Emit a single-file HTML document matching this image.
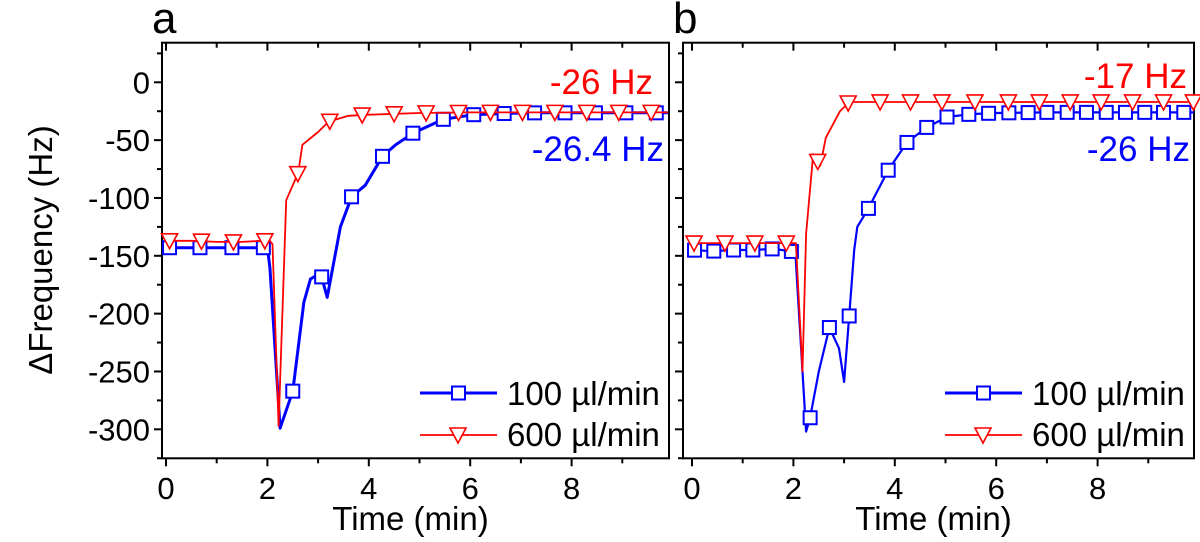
<!DOCTYPE html>
<html><head><meta charset="utf-8">
<style>
html,body{margin:0;padding:0;background:#fff;}
svg{display:block;font-family:"Liberation Sans",Arial,sans-serif;}
</style></head>
<body>
<svg id="chart" width="1200" height="542" viewBox="0 0 1200 542" xmlns="http://www.w3.org/2000/svg"></svg>
<script>
// Panel a data
const aBlueT = [0,0.5,1,1.5,2.0,2.05,2.25,2.5,2.72,2.85,3.05,3.18,3.44,3.66,3.93,4.27,4.53,4.87,5.47,6.07,6.67,7.3,8,9,9.9];
const aBlueV = [-143,-143,-143,-143,-143,-160,-299,-267,-190,-170,-165,-186,-125,-99,-89,-64,-54,-44,-32,-28,-27,-26.4,-26.4,-26.4,-26.4];
const aBlueMarkT = [0.07,0.67,1.3,1.92,2.5,3.07,3.66,4.27,4.87,5.47,6.07,6.67,7.27,7.87,8.47,9.07,9.67];
const aRedT = [0,0.5,1,1.5,1.9,2.05,2.1,2.22,2.37,2.61,2.69,3.0,3.21,3.6,4.0,5.0,6,7,8,9,9.9];
const aRedV = [-137,-137,-138,-138,-137,-137,-140,-297,-102,-78,-54,-43,-34,-29,-28,-26.5,-26,-26,-26,-26,-26];
const aRedMarkT = [0.07,0.7,1.33,1.95,2.6,3.23,3.87,4.5,5.13,5.77,6.4,7.03,7.67,8.3,8.93,9.57];
// Panel b data
const bBlueT = [0,0.4,0.8,1.2,1.6,1.95,2.04,2.25,2.33,2.5,2.71,2.9,3.0,3.1,3.2,3.26,3.48,3.87,4.24,4.63,5.03,5.5,6,7,8,9,9.9];
const bBlueV = [-145,-146,-145,-145,-144,-146,-148,-302,-290,-250,-212,-230,-259,-202,-145,-125,-109,-76,-52,-39,-30,-27.5,-26.5,-26,-26,-26,-26];
const bBlueMarkT = [0.05,0.43,0.82,1.2,1.58,1.96,2.33,2.71,3.1,3.48,3.87,4.24,4.63,5.03,5.46,5.85,6.25,6.63,7.0,7.4,7.78,8.17,8.55,8.93,9.3,9.7];
const bRedT = [0,0.5,1,1.5,2.05,2.18,2.25,2.39,2.53,2.64,2.92,3.1,4,5,6,7,8,9,9.9];
const bRedV = [-139,-139,-139,-139,-139,-250,-131,-62,-72,-48,-25,-17,-17,-17,-17,-17,-17,-17,-17];
const bRedMarkT = [0.04,0.65,1.24,1.86,2.48,3.08,3.71,4.31,4.93,5.58,6.24,6.85,7.46,8.07,8.69,9.30,9.89];
// ticks
const yTicks = [0,-50,-100,-150,-200,-250,-300];
const xTicks = [0,2,4,6,8];

const NS="http://www.w3.org/2000/svg";
const svg=document.getElementById('chart');
function mk(tag,attrs,parent){const e=document.createElementNS(NS,tag);for(const k in attrs)e.setAttribute(k,attrs[k]);(parent||svg).appendChild(e);return e;}
function interp(T,V,t){for(let i=0;i<T.length-1;i++){if(t>=T[i]&&t<=T[i+1]){return V[i]+(V[i+1]-V[i])*(t-T[i])/(T[i+1]-T[i]);}}return V[V.length-1];}

const Y0=82.3, PXHZ=1.1567, TOP=42.7, BOT=458.3;
const yS=v=>Y0-v*PXHZ;

function panel(p){
  const xS=t=>p.x0+t*50.7;
  const g=mk('g',{});
  
  
  const fr=mk('rect',{x:p.L,y:TOP,width:p.R-p.L,height:BOT-TOP,fill:'none',stroke:'#000','stroke-width':2},g);
  
  for(let v=25;v>=-325;v-=25){const y=yS(v);if(y<TOP||y>BOT)continue;const major=(v%50===0);
    mk('line',{x1:p.L-(major?8:5),x2:p.L,y1:y,y2:y,stroke:'#000','stroke-width':2},g);}
  if(p.labels){yTicks.forEach(v=>{const t=mk('text',{x:p.L-12,y:yS(v)+11,'text-anchor':'end','font-size':31},g);t.textContent=(v<0?'-':'')+Math.abs(v);
    });}
  for(let t=0;t<=9;t++){const x=xS(t);const major=(t%2===0);
    mk('line',{x1:x,x2:x,y1:BOT,y2:BOT+(major?8:5),stroke:'#000','stroke-width':2},g);
    mk('line',{x1:x,x2:x,y1:TOP,y2:TOP+(major?8:5),stroke:'#000','stroke-width':2},g);}
  xTicks.forEach(t=>{const e=mk('text',{x:xS(t),y:499,'text-anchor':'middle','font-size':31},g);e.textContent=t;
    });
  const xt=mk('text',{x:(p.L+p.R)/2-5,y:530,'text-anchor':'middle','font-size':33},g);xt.textContent='Time (min)';
  
  const pl=mk('text',{x:p.L-10,y:33,'font-size':44},g);pl.textContent=p.letter;
  
  function series(T,V,M,color,w,marker,nm){
    const pts=T.map((t,i)=>xS(t).toFixed(1)+','+yS(V[i]).toFixed(1)).join(' ');
    const l=mk('polyline',{points:pts,fill:'none',stroke:color,'stroke-width':w,'stroke-linejoin':'round'},g);
    
    M.forEach(t=>{const x=xS(t),y=yS(interp(T,V,t));let m;
      if(marker==='sq')m=mk('rect',{x:x-6.5,y:y-6.5,width:13,height:13,fill:'#fff',stroke:color,'stroke-width':2},g);
      else m=mk('polygon',{points:`${x-8},${y-7} ${x+8},${y-7} ${x},${y+8}`,fill:'#fff',stroke:color,'stroke-width':1.6},g);
      });
  }
  series(p.bT,p.bV,p.bM,'#0000ff',p.bw,'sq','series-100');
  series(p.rT,p.rV,p.rM,'#ff0000',1.8,'tri','series-600');
  const a1=mk('text',{x:p.annX1,y:p.annY1,'text-anchor':'end','font-size':35,fill:'#ff0000'},g);a1.textContent=p.redLbl;
  
  const a2=mk('text',{x:p.annX2,y:161,'text-anchor':'end','font-size':35,fill:'#0000ff'},g);a2.textContent=p.blueLbl;
  
  const lg=mk('g',{},g);
  const lx=p.legX;
  const e1=mk('g',{},lg);
  mk('line',{x1:lx,x2:lx+77,y1:393,y2:393,stroke:'#0000ff','stroke-width':3},e1);
  mk('rect',{x:lx+32,y:386.5,width:13,height:13,fill:'#fff',stroke:'#0000ff','stroke-width':2},e1);
  const t1=mk('text',{x:lx+87,y:405,'font-size':33},e1);t1.textContent='100 µl/min';
  const e2=mk('g',{},lg);
  mk('line',{x1:lx,x2:lx+77,y1:435,y2:435,stroke:'#ff0000','stroke-width':1.8},e2);
  mk('polygon',{points:`${lx+30},428 ${lx+46},428 ${lx+38},443`,fill:'#fff',stroke:'#ff0000','stroke-width':1.6},e2);
  const t2=mk('text',{x:lx+87,y:446,'font-size':33},e2);t2.textContent='600 µl/min';
}
panel({name:'panel-a',letter:'a',L:162,R:669,x0:166,labels:true,bT:aBlueT,bV:aBlueV,bM:aBlueMarkT,rT:aRedT,rV:aRedV,rM:aRedMarkT,bw:3,
  redLbl:'-26 Hz',blueLbl:'-26.4 Hz',annX1:653,annY1:94,annX2:664,legX:420});
panel({name:'panel-b',letter:'b',L:683,R:1194,x0:692,labels:false,bT:bBlueT,bV:bBlueV,bM:bBlueMarkT,rT:bRedT,rV:bRedV,rM:bRedMarkT,bw:2.2,
  redLbl:'-17 Hz',blueLbl:'-26 Hz',annX1:1187,annY1:88,annX2:1190,legX:945});
const yt=mk('text',{x:0,y:0,'text-anchor':'middle','font-size':33,transform:'translate(52,250) rotate(-90)'});
yt.textContent='ΔFrequency (Hz)';


</script>
</body></html>
